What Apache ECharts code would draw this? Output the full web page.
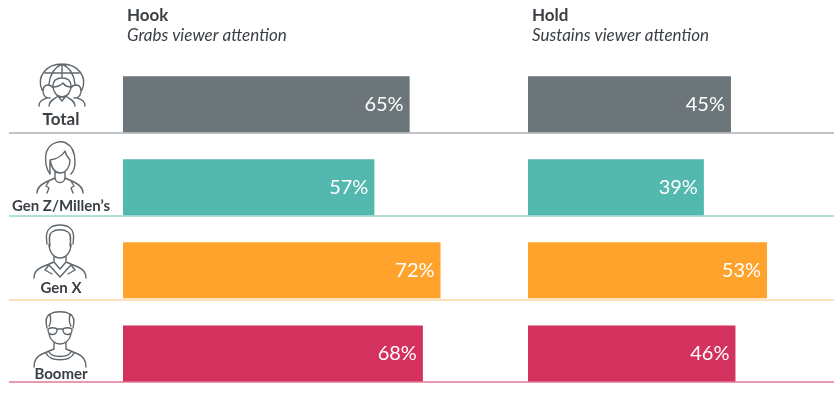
<!DOCTYPE html>
<html><head><meta charset="utf-8">
<style>html,body{margin:0;padding:0;background:#fff}#c{width:834px;height:395px}</style>
<script src="https://cdn.jsdelivr.net/npm/echarts@6/dist/echarts.min.js"></script>
</head><body><div id="c"></div>
<script>
const categories = ['Total', 'Gen Z/Millen\u2019s', 'Gen X', 'Boomer'];
const hookValues = [65, 57, 72, 68];
const holdValues = [45, 39, 53, 46];
const barColors = ['#6b757a', '#53b8ae', '#ffa32d', '#d3315e'];
const ruleColors = ['#c0c4c7', '#b4e0db', '#fde0ba', '#e89ab1'];
const ruleY = [132, 215, 299, 381];
const labelY = [120, 206, 288, 374];
const labelSize = [17, 15, 15, 15];
const headers = [
  {x: 127, title: 'Hook', sub: 'Grabs viewer attention'},
  {x: 532, title: 'Hold', sub: 'Sustains viewer attention'}
];
const ink = '#3a3f44', iconInk = '#60676c';
const icons = [
  // Total: globe with three people
  'M42 90 C36 76 47 64 62 64 C77 64 88 76 82 90 M62 64 L62 78 M62 64 C53 68 50 75 49 84 M62 64 C71 68 74 75 75 84 M45 73 L79 73 ' +
  'M53 86 C53 80 57 78 62 78 C67 78 71 80 71 86 C71 92 67 97 62 97 C57 97 53 92 53 86 Z M53 87 C58 87 61 85 63 83 C65 86 68 87 71 87 ' +
  'M43 91 C43 87 45 85 48 85 C50 85 52 86 53 88 M48 85 C43 85 42 91 44 95 C45 97 47 98 50 98 M81 91 C81 87 79 85 76 85 C74 85 72 86 71 88 M76 85 C81 85 82 91 80 95 C79 97 77 98 74 98 ' +
  'M39 106 C39 101 42 100 47 98 M85 106 C85 101 82 100 77 98 M49 106 C49 101 53 100 58 96 L62 101 L66 96 C71 100 75 101 75 106',
  // Gen Z / Millennial woman
  'M50 174 C44 166 45 153 48 149 C51 143 60 140 66 143 C72 146 75 153 75 162 C75 167 74 171 71 174 ' +
  'M50 174 C50 172 50 166 50 160 C57 159 62 156 65 151 C66 156 68 158 70 160 C70 167 66 173 60 173 C56 173 52 170 50 160 ' +
  'M55 172 L55 178 L46 182 C40 185 37 188 37 193 M65 172 L65 178 L74 182 C80 185 83 188 83 193 ' +
  'M55 178 C56 184 64 184 65 178 M49 181 L46 186 L49 188 L47 193 M71 181 L74 186 L71 188 L73 193',
  // Gen X man
  'M47 244 C46 236 46 231 50 228 C55 224 65 224 70 228 C74 231 74 236 73 244 M50 246 C49 238 49 234 52 232 C56 229 64 229 68 232 C71 234 71 238 70 246 ' +
  'M49 244 C49 252 54 258 60 258 C66 258 71 252 71 244 ' +
  'M54 256 L54 262 L42 267 C37 269 34 272 34 278 M66 256 L66 262 L78 267 C83 269 86 272 86 278 ' +
  'M54 262 L60 269 L66 262 M49 265 L60 277 L71 265 M49 265 L45 270 L52 274 M71 265 L75 270 L68 274',
  // Boomer with glasses
  'M47 328 C45 320 46 316 50 314 C55 311 65 311 70 314 C74 316 75 320 73 328 M50 314 C51 319 51 323 49 326 M70 314 C69 319 69 323 71 326 ' +
  'M49 334 C50 340 55 344 60 344 C65 344 70 340 71 334 ' +
  'M48 330 C48 327 57 327 57 330 C57 336 48 336 48 330 Z M63 330 C63 327 72 327 72 330 C72 336 63 336 63 330 Z M57 329 L63 329 ' +
  'M54 343 L54 349 L42 354 C37 356 34 360 34 367 M66 343 L66 349 L78 354 C83 356 86 360 86 367 ' +
  'M49 352 C52 358 68 358 71 352 M46 353 C50 362 70 362 74 353'
];

const graphicEls = [];
ruleY.forEach((y, i) => graphicEls.push({
  type: 'rect', z: 0, shape: {x: 9, y: y, width: 825, height: 2},
  style: {fill: ruleColors[i]}
}));
headers.forEach(h => {
  graphicEls.push({type: 'text', x: h.x, y: 16, style: {text: h.title, font: 'bold 17px Lato', fill: ink, verticalAlign: 'middle'}});
  graphicEls.push({type: 'text', x: h.x, y: 36, style: {text: h.sub, font: 'italic 17px Lato', fill: ink, verticalAlign: 'middle'}});
});
categories.forEach((c, i) => {
  graphicEls.push({type: 'text', x: 61, y: labelY[i], style: {text: c, font: 'bold ' + labelSize[i] + 'px Lato', fill: ink, align: 'center', verticalAlign: 'middle'}});
});

const toData = vals => vals.map((v, i) => ({value: v, itemStyle: {color: barColors[i]}}));
const barSeries = (vals, idx) => ({
  type: 'bar', xAxisIndex: idx, yAxisIndex: idx, data: toData(vals), barWidth: 56, silent: true, z: 3,
  label: {show: true, position: 'insideRight', distance: 6, formatter: '{c}%', color: '#fff', fontFamily: 'Lato', fontWeight: 400, fontSize: 20}
});
const yAxis = idx => ({gridIndex: idx, type: 'category', inverse: true, data: categories, show: false});

const iconSeries = {
  type: 'custom', coordinateSystem: 'none', silent: true, z: 4,
  data: categories.map((c, i) => i),
  renderItem: params => ({
    type: 'path',
    shape: {pathData: icons[params.dataIndex]},
    style: {fill: 'none', stroke: iconInk, lineWidth: 1.4, lineJoin: 'round', lineCap: 'round'}
  })
};

const chart = echarts.init(document.getElementById('c'), null, {renderer: 'canvas'});
chart.setOption({
  animation: false,
  backgroundColor: '#fff',
  grid: [
    {left: 123, top: 62.6, width: 441, height: 333},
    {left: 528, top: 62.6, width: 270.6, height: 333}
  ],
  xAxis: [
    {gridIndex: 0, type: 'value', min: 0, max: 100, show: false},
    {gridIndex: 1, type: 'value', min: 0, max: 60, show: false}
  ],
  yAxis: [yAxis(0), yAxis(1)],
  series: [barSeries(hookValues, 0), barSeries(holdValues, 1), iconSeries],
  graphic: graphicEls
});
</script></body></html>
